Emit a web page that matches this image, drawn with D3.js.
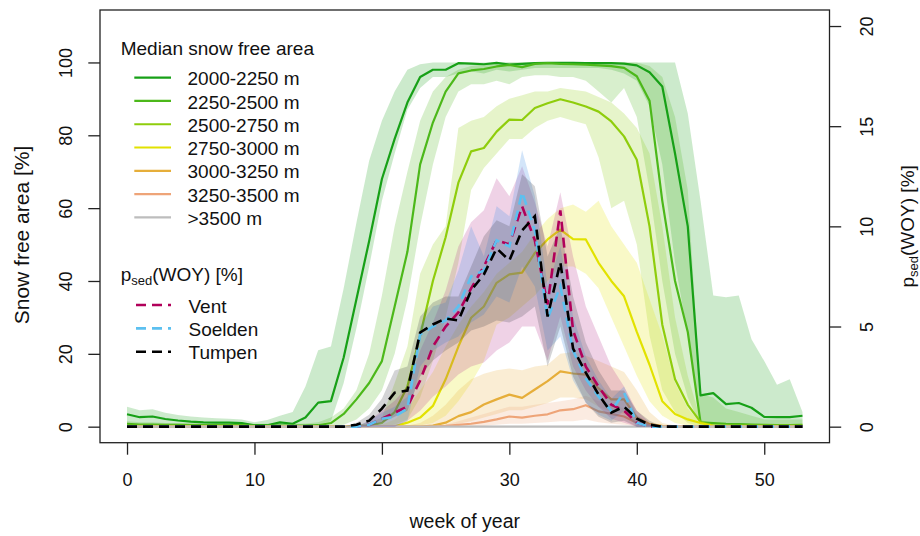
<!DOCTYPE html>
<html>
<head>
<meta charset="utf-8">
<script src="https://cdn.jsdelivr.net/npm/d3@7"></script>
<style>
    body { margin: 0; background: #fff; }
    text { font-family: "Liberation Sans", Arial, sans-serif; fill: #111; font-size: 19px; }
    .tick text { font-size: 18px; }
</style>
</head>
<body>
<svg id="chart" width="920" height="536"></svg>
<script>
// week of year, 0..53
var weeks = [0,1,2,3,4,5,6,7,8,9,10,11,12,13,14,15,16,17,18,19,20,21,22,23,24,25,26,
    27,28,29,30,31,32,33,34,35,36,37,38,39,40,41,42,43,44,45,46,47,48,49,50,51,52,53];

var elevLabels = ["2000-2250 m", "2250-2500 m", "2500-2750 m", "2750-3000 m",
    "3000-3250 m", "3250-3500 m", ">3500 m"];
var elevColors = ["#17a017", "#4cb81a", "#8fcd0c", "#e2e200", "#e6ae3a", "#eea478", "#bdbdbd"];

// median snow free area [%] per elevation band, with lower / upper envelope
var med2000 = [3.4,2.6,2.8,2.1,1.7,1.4,1.2,1.1,1.1,1.0, 0.4,0.4,1.2,0.8,2.5,6.6,7.0,19,35,51,
    68,79,89,96,98,98,99.8,99.7,99.5,99.9, 99.4,99.6,99.8,99.9,99.9,99.9,99.8,99.8,99.8,99.7,
    99.2,97.3,93.4,75,55,8.6,9.2,6.2,6.5,5.2, 2.7,2.6,2.6,3.0];
var lo2000 = [0.3,0.3,0.3,0.3,0.3,0.3,0.3,0.3,0.3,0.3, 0.2,0.2,0.3,0.3,0.4,0.5,1.5,12,27,44,
    62,75,87,93,96,96,97,97.5,97,98, 97.5,98,98.5,98.5,98.5,98.5,98.5,98.5,98,97,
    95,88,72,45,25,1.0,1.0,0.8,0.7,0.6, 0.5,0.5,0.5,0.5];
var hi2000 = [5.5,4.5,4.8,3.8,3.2,2.8,2.5,2.3,2.2,2.0, 1.2,1.8,3.0,4.0,11,21,22,38,56,73,
    84,92,98,99.5,100,100,100,100,100,100, 100,100,100,100,100,100,100,100,100,100,
    100,100,100,100,86,62,36,35.5,36,24, 18,11.5,13,4];

var med2250 = [0.8,0.6,0.6,0.5,0.5,0.4,0.4,0.4,0.4,0.4, 0.3,0.3,0.3,0.3,0.3,0.4,1.0,3.5,7.5,12,
    18,33,48,72,83.5,92,97,97.8,98.2,98.9, 99.3,98.7,99.6,99.8,99.6,99.5,99.4,99.2,99.0,98.5,
    96.2,89.5,62,40,26,1.2,1.0,0.8,0.7,0.6, 0.5,0.4,0.4,0.5];
var lo2250 = [0.1,0.1,0.1,0.1,0.1,0.1,0.1,0.1,0.1,0.1, 0.1,0.1,0.1,0.1,0.1,0.1,0.2,0.5,2,5,
    10,20,35,55,72,85,92,94,94,95, 94,96,96.5,96.5,96,96,95,92,89,93,
    85,65,40,20,8,0.3,0.2,0.2,0.2,0.2, 0.2,0.2,0.2,0.2];
var hi2250 = [1.5,1.2,1.2,1.0,1.0,1.0,0.9,0.9,0.9,0.9, 0.8,0.8,0.8,0.8,0.9,1.2,2.5,5,10,20,
    36,55,70,84,92,96,98,99,99.5,99.8, 100,100,100,100,100,100,100,100,100,100,
    100,99,96,85,65,9,8,5,4,3, 2,2,2,2];

var med2500 = [0.2,0.2,0.2,0.2,0.2,0.2,0.2,0.2,0.2,0.2, 0.1,0.1,0.1,0.1,0.1,0.1,0.1,0.1,0.2,0.3,
    1,4,11,25,40,52,67,75.6,76.5,81, 84.3,84.2,87.5,88.8,89.9,89,87.9,86.5,83.8,79.7,
    73.3,55,28,13,6,1.3,0.3,0.3,0.3,0.3, 0.3,0.3,0.3,0.3];
var lo2500 = [0,0,0,0,0,0,0,0,0,0, 0,0,0,0,0,0,0,0,0,0,
    0,0.5,2,8,18,30,45,65,71,75, 79,79,82,84,85,84,83,74,60,62,
    50,25,10,4,1,0,0,0,0,0, 0,0,0,0];
var hi2500 = [0.3,0.3,0.3,0.3,0.3,0.3,0.3,0.3,0.3,0.3, 0.3,0.3,0.3,0.3,0.3,0.3,0.3,0.3,0.5,1.0,
    2.5,12,22,42,50,55,82,84,85,88, 90,91,92,92,93,92.5,92,90.5,89,86,
    82,75,55,30,14,2,0.6,0.6,0.5,0.5, 0.5,0.5,0.5,0.5];

var med2750 = [0,0,0,0,0,0,0,0,0,0, 0,0,0,0,0,0,0,0,0,0,
    0,0.1,1.1,2.5,5.7,13,22,29.9,33,39.5, 41.8,42.3,47.7,51.4,54.1,51.5,51.4,45,40,35.8,
    26,17,7,3.5,2,1,0.2,0.1,0.1,0.1, 0.1,0.1,0.1,0.1];
var lo2750 = [0,0,0,0,0,0,0,0,0,0, 0,0,0,0,0,0,0,0,0,0,
    0,0,0,0.3,1,3,7,12,18,28, 30,33,36,40,44,44,42,38,30,22,
    14,7,3,1,0.3,0,0,0,0,0, 0,0,0,0];
var hi2750 = [0,0,0,0,0,0,0,0,0,0, 0,0,0,0,0,0,0,0,0,0,
    0.5,2,5,10,15,22,28,33,37,42, 45,48,53,57,60,61,59,62,55,50,
    45,35,25,12,5,1,0.3,0.2,0.2,0.2, 0.2,0.2,0.2,0.2];

var med3000 = [0,0,0,0,0,0,0,0,0,0, 0,0,0,0,0,0,0,0,0,0,
    0,0,0,0,0.3,1.1,2.9,4.0,6.1,7.5, 8.8,7.9,10.2,12.5,15.2,14.6,14.3,10.5,7.5,7.5,
    2.5,0.7,0.2,0.1,0,0,0,0,0,0, 0,0,0,0];
var lo3000 = [0,0,0,0,0,0,0,0,0,0, 0,0,0,0,0,0,0,0,0,0,
    0,0,0,0,0,0.3,0.8,1.5,2.5,3.5, 4.5,4.5,5.5,6.5,8,8,7.5,5.5,4,3.5,
    0.8,0.2,0,0,0,0,0,0,0,0, 0,0,0,0];
var hi3000 = [0,0,0,0,0,0,0,0,0,0, 0,0,0,0,0,0,0,0,0,0,
    0,0,0.3,1,3,6,10,13,14.5,15.5, 16,15.5,16.5,17,20,20.5,19.5,18,16.5,15,
    10,4,1,0.3,0,0,0,0,0,0, 0,0,0,0];

var med3250 = [0,0,0,0,0,0,0,0,0,0, 0,0,0,0,0,0,0,0,0,0,
    0,0,0,0,0,0.2,0.5,0.8,1.3,2.0, 2.8,2.5,3.0,3.4,4.5,4.8,5.9,4.2,3.5,2.8,
    1.1,0.4,0.1,0,0,0,0,0,0,0, 0,0,0,0];
var lo3250 = [0,0,0,0,0,0,0,0,0,0, 0,0,0,0,0,0,0,0,0,0,
    0,0,0,0,0,0,0,0,0.2,0.5, 0.8,0.8,1.0,1.2,1.5,1.5,2.0,1.2,0.8,0.5,
    0.2,0,0,0,0,0,0,0,0,0, 0,0,0,0];
var hi3250 = [0,0,0,0,0,0,0,0,0,0, 0,0,0,0,0,0,0,0,0,0,
    0,0,0,0,0,0.5,1.5,2.5,3.5,4.5, 5.5,5.5,6,6.5,7,7.5,8.5,7,6,5,
    3,1,0.3,0,0,0,0,0,0,0, 0,0,0,0];

var med3500 = [0,0,0,0,0,0,0,0,0,0, 0,0,0,0,0,0,0,0,0,0,
    0,0,0,0,0,0,0,0,0,0, 0,0,0,0,0,0,0,0,0,0,
    0,0,0,0,0,0,0,0,0,0, 0,0,0,0];
var lo3500 = [0,0,0,0,0,0,0,0,0,0, 0,0,0,0,0,0,0,0,0,0,
    0,0,0,0,0,0,0,0,0,0, 0,0,0,0,0,0,0,0,0,0,
    0,0,0,0,0,0,0,0,0,0, 0,0,0,0];
var hi3500 = [0,0,0,0,0,0,0,0,0,0, 0,0,0,0,0,0,0,0,0,0,
    0,0,0,0,0,0,0.3,0.3,0.3,0.3, 0.3,0.3,0.3,0.3,0.3,0.3,0.3,0.3,0.3,0,
    0,0,0,0,0,0,0,0,0,0, 0,0,0,0];

// p_sed(WOY) [%] per site (right axis), with envelope
var siteLabels = ["Vent", "Soelden", "Tumpen"];
var siteColors = ["#b1005a", "#5cc0f0", "#000000"];
var siteFills = ["rgba(180,50,140,0.22)", "rgba(80,150,230,0.25)", "rgba(60,60,70,0.22)"];

var vent = [0,0,0,0,0,0,0,0,0,0, 0,0,0,0,0,0,0,0,0,0.1,
    0.4,0.7,1.0,2.3,4.0,5.0,5.7,6.9,8.0,9.3, 9.1,11.0,9.3,6.1,10.8,4.8,3.0,2.0,1.1,0.8,
    0.2,0,0,0,0,0,0,0,0,0, 0,0,0,0];
var ventLo = [0,0,0,0,0,0,0,0,0,0, 0,0,0,0,0,0,0,0,0,0,
    0,0,0.3,0.8,1.5,2.0,2.6,3.0,3.2,3.8, 4.2,5.0,5.0,3.3,5.5,3.0,1.8,1.0,0.4,0.2,
    0,0,0,0,0,0,0,0,0,0, 0,0,0,0];
var ventHi = [0,0,0,0,0,0,0,0,0,0, 0,0,0,0,0,0,0,0,0,0.3,
    0.8,1.3,2.0,3.8,5.2,6.8,9.0,10.2,10.8,12.4, 11.5,13.0,11.2,9.0,11.7,8.5,6.0,4.5,3.0,2.0,
    0.8,0.2,0,0,0,0,0,0,0,0, 0,0,0,0];

var soelden = [0,0,0,0,0,0,0,0,0,0, 0,0,0,0,0,0,0,0,0,0.1,
    0.4,0.5,0.9,4.6,5.0,5.3,6.0,7.5,7.8,9.3, 9.0,11.7,9.8,5.4,7.0,3.8,2.4,1.5,0.8,1.7,
    0.2,0,0,0,0,0,0,0,0,0, 0,0,0,0];
var soeldenLo = [0,0,0,0,0,0,0,0,0,0, 0,0,0,0,0,0,0,0,0,0,
    0,0,0.3,3.0,3.8,4.2,4.5,5.2,5.6,6.5, 6.2,8.0,7.0,3.8,4.5,2.3,1.2,0.6,0.3,0.8,
    0,0,0,0,0,0,0,0,0,0, 0,0,0,0];
var soeldenHi = [0,0,0,0,0,0,0,0,0,0, 0,0,0,0,0,0,0,0,0,0.3,
    0.7,1.0,1.5,5.0,6.0,6.2,7.8,10.0,8.5,11.0, 10.5,13.8,11.5,7.0,9.0,5.5,3.5,2.3,1.4,2.0,
    0.6,0.1,0,0,0,0,0,0,0,0, 0,0,0,0];

var tumpen = [0,0,0,0,0,0,0,0,0,0, 0,0,0,0,0,0,0,0,0.1,0.3,
    0.9,1.7,1.8,4.7,5.1,5.4,5.3,6.8,7.6,8.9, 8.3,9.8,10.5,5.5,8.2,3.9,2.7,1.6,0.7,1.0,
    0.4,0.1,0,0,0,0,0,0,0,0, 0,0,0,0];
var tumpenLo = [0,0,0,0,0,0,0,0,0,0, 0,0,0,0,0,0,0,0,0,0,
    0.2,0.5,0.8,2.5,3.3,3.8,4.2,4.8,5.0,5.3, 5.2,5.5,6.0,3.0,5.0,2.5,1.2,0.5,0.2,0.3,
    0,0,0,0,0,0,0,0,0,0, 0,0,0,0];
var tumpenHi = [0,0,0,0,0,0,0,0,0,0, 0,0,0,0,0,0,0,0,0.2,0.6,
    1.4,2.8,3.0,5.5,6.2,6.5,6.5,8.0,9.5,10.3, 10.0,12.6,12.0,8.5,10.0,6.5,4.2,2.8,1.8,1.8,
    0.8,0.3,0,0,0,0,0,0,0,0, 0,0,0,0];

var xTicks = [0, 10, 20, 30, 40, 50];
var yTicksLeft = [0, 20, 40, 60, 80, 100];
var yTicksRight = [0, 5, 10, 15, 20];

var elevSeries = [
    { med: med2000, lo: lo2000, hi: hi2000 },
    { med: med2250, lo: lo2250, hi: hi2250 },
    { med: med2500, lo: lo2500, hi: hi2500 },
    { med: med2750, lo: lo2750, hi: hi2750 },
    { med: med3000, lo: lo3000, hi: hi3000 },
    { med: med3250, lo: lo3250, hi: hi3250 },
    { med: med3500, lo: lo3500, hi: hi3500 }
];
elevSeries.forEach(function(s, i) { s.label = elevLabels[i]; s.color = elevColors[i]; });

var siteSeries = [
    { med: vent, lo: ventLo, hi: ventHi },
    { med: soelden, lo: soeldenLo, hi: soeldenHi },
    { med: tumpen, lo: tumpenLo, hi: tumpenHi }
];
siteSeries.forEach(function(s, i) {
    s.label = siteLabels[i]; s.color = siteColors[i]; s.fill = siteFills[i];
});

// plot region, R style (4% padding on the ranges)
// (don't call these left/top, window.top is read only)
var plotX = 100, plotY = 10, W = 729.5, H = 432.7;

var svg = d3.select("#chart");
var g = svg.append("g").attr("transform", "translate(" + plotX + "," + plotY + ")");

var x = d3.scaleLinear().domain([-2.12, 55.12]).range([0, W]);
var yL = d3.scaleLinear().domain([-4.4, 114.4]).range([H, 0]);
var yR = d3.scaleLinear().domain([-0.8, 20.8]).range([H, 0]);

var bandFor = function(y) {
    return d3.area()
        .x(function(d) { return x(d.w); })
        .y0(function(d) { return y(d.lo); })
        .y1(function(d) { return y(d.hi); });
};
var lineFor = function(y) {
    return d3.line()
        .x(function(d) { return x(d.w); })
        .y(function(d) { return y(d.v); });
};
var rows = function(s) {
    return weeks.map(function(w, i) {
        return { w: w, v: s.med[i], lo: s.lo[i], hi: s.hi[i] };
    });
};

var plot = g.append("g");

// envelopes first, then medians
plot.selectAll("path.elev-band")
    .data(elevSeries)
    .enter().append("path")
    .attr("class", "elev-band")
    .attr("d", function(s) { return bandFor(yL)(rows(s)); })
    .style("fill", function(s) { return s.color; })
    .style("fill-opacity", 0.22)
    .style("stroke", "none");

plot.selectAll("path.elev-line")
    .data(elevSeries)
    .enter().append("path")
    .attr("class", "elev-line")
    .attr("d", function(s) { return lineFor(yL)(rows(s)); })
    .style("fill", "none")
    .style("stroke", function(s) { return s.color; })
    .style("stroke-width", 2.2)
    .style("stroke-linejoin", "round");

plot.selectAll("path.site-band")
    .data(siteSeries)
    .enter().append("path")
    .attr("class", "site-band")
    .attr("d", function(s) { return bandFor(yR)(rows(s)); })
    .style("fill", function(s) { return s.fill; })
    .style("stroke", "none");

plot.selectAll("path.site-line")
    .data(siteSeries)
    .enter().append("path")
    .attr("class", "site-line")
    .attr("d", function(s) { return lineFor(yR)(rows(s)); })
    .style("fill", "none")
    .style("stroke", function(s) { return s.color; })
    .style("stroke-width", 2.6)
    .style("stroke-dasharray", "10,6");

// box
g.append("rect")
    .attr("width", W)
    .attr("height", H)
    .style("fill", "none")
    .style("stroke", "#222")
    .style("stroke-width", 1.3);

// axes
var gx = g.append("g")
    .attr("transform", "translate(0," + H + ")")
    .attr("color", "#222")
    .call(d3.axisBottom(x).tickValues(xTicks).tickSize(12).tickSizeOuter(0));
gx.select(".domain").remove();
gx.selectAll(".tick line").style("stroke-width", 1.3);
gx.selectAll("text").attr("y", 43.5).attr("dy", 0);

var gl = g.append("g")
    .attr("color", "#222")
    .call(d3.axisLeft(yL).tickValues(yTicksLeft).tickSize(11.7).tickSizeOuter(0));
gl.select(".domain").remove();
gl.selectAll(".tick line").style("stroke-width", 1.3);
gl.selectAll("text")
    .attr("x", 0).attr("dy", 0)
    .attr("text-anchor", "middle")
    .attr("transform", "translate(-28.5,0) rotate(-90)");

var gr = g.append("g")
    .attr("transform", "translate(" + W + ",0)")
    .attr("color", "#222")
    .call(d3.axisRight(yR).tickValues(yTicksRight).tickSize(11.7).tickSizeOuter(0));
gr.select(".domain").remove();
gr.selectAll(".tick line").style("stroke-width", 1.3);
gr.selectAll("text")
    .attr("x", 0).attr("dy", 0)
    .attr("text-anchor", "middle")
    .attr("transform", "translate(43.5,0) rotate(-90)");

// axis titles
svg.append("text")
    .attr("x", plotX + W / 2)
    .attr("y", 528)
    .attr("text-anchor", "middle")
    .style("font-size", "19.5px")
    .text("week of year");

svg.append("text")
    .attr("transform", "translate(29,235) rotate(-90)")
    .attr("text-anchor", "middle")
    .style("font-size", "21px")
    .text("Snow free area [%]");

var psedTitle = function(sel) {
    sel.append("tspan").text("p");
    sel.append("tspan").attr("dy", 4).style("font-size", "13px").text("sed");
    sel.append("tspan").attr("dy", -4).text("(WOY) [%]");
};

svg.append("text")
    .attr("transform", "translate(914," + (plotY + H / 2) + ") rotate(-90)")
    .attr("text-anchor", "middle")
    .call(psedTitle);

// legends
var leg = svg.append("g");
leg.append("text").attr("x", 120.7).attr("y", 54.5).text("Median snow free area");

var elevItems = leg.selectAll("g.elev-item")
    .data(elevSeries)
    .enter().append("g")
    .attr("class", "elev-item")
    .attr("transform", function(s, i) { return "translate(0," + (77.7 + i * 23.27) + ")"; });
elevItems.append("line")
    .attr("x1", 134.3).attr("x2", 171)
    .style("stroke", function(s) { return s.color; })
    .style("stroke-width", 2.2);
elevItems.append("text")
    .attr("x", 187.5).attr("y", 7.6)
    .text(function(s) { return s.label; });

leg.append("text").attr("x", 120.7).attr("y", 280.7).call(psedTitle);

var siteItems = leg.selectAll("g.site-item")
    .data(siteSeries)
    .enter().append("g")
    .attr("class", "site-item")
    .attr("transform", function(s, i) { return "translate(0," + (305 + i * 23.4) + ")"; });
siteItems.append("line")
    .attr("x1", 136).attr("x2", 171)
    .style("stroke", function(s) { return s.color; })
    .style("stroke-width", 2.6)
    .style("stroke-dasharray", "10,6");
siteItems.append("text")
    .attr("x", 188.5).attr("y", 7.6)
    .text(function(s) { return s.label; });
</script>
</body>
</html>
